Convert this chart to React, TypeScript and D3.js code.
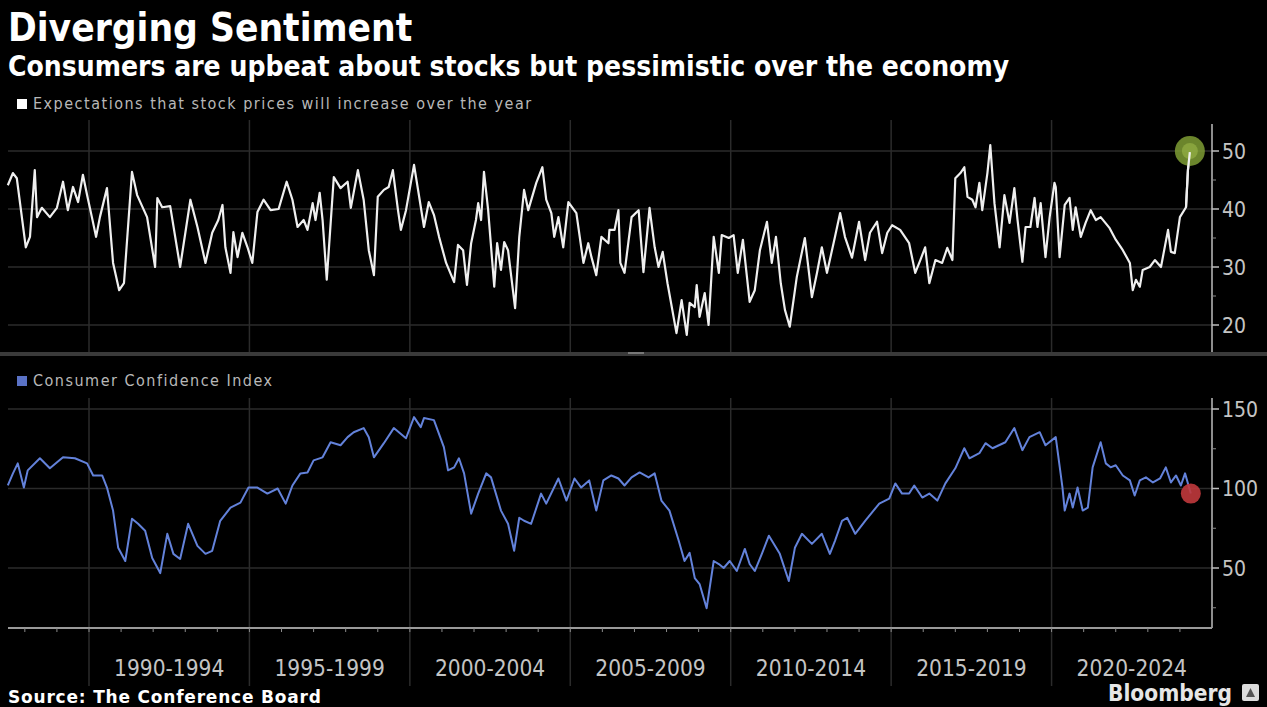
import React from 'react';
import * as d3 from 'd3';

// Expectations that stock prices will increase over the year (%)
const stockDates = [
  1987.47, 1987.63, 1987.75, 1988.03, 1988.16, 1988.31, 1988.38, 1988.53, 1988.78, 1989.0,
  1989.19, 1989.34, 1989.5, 1989.66, 1989.81, 1989.94, 1990.09, 1990.22, 1990.34, 1990.56,
  1990.75, 1990.94, 1991.09, 1991.34, 1991.5, 1991.81, 1992.06, 1992.13, 1992.28, 1992.53,
  1992.84, 1993.16, 1993.38, 1993.63, 1993.84, 1994.03, 1994.16, 1994.25, 1994.41, 1994.5,
  1994.63, 1994.78, 1994.94, 1995.09, 1995.25, 1995.44, 1995.66, 1995.91, 1996.16, 1996.34,
  1996.5, 1996.69, 1996.81, 1996.97, 1997.06, 1997.19, 1997.28, 1997.41, 1997.63, 1997.84,
  1998.06, 1998.16, 1998.38, 1998.56, 1998.72, 1998.88, 1999.0, 1999.19, 1999.34, 1999.47,
  1999.63, 1999.72, 1999.88, 2000.13, 2000.25, 2000.44, 2000.59, 2000.75, 2000.91, 2001.13,
  2001.38, 2001.5, 2001.66, 2001.78, 2001.91, 2002.06, 2002.13, 2002.22, 2002.31, 2002.44,
  2002.63, 2002.72, 2002.84, 2002.94, 2003.06, 2003.28, 2003.41, 2003.56, 2003.69, 2003.94,
  2004.13, 2004.25, 2004.41, 2004.5, 2004.63, 2004.78, 2004.94, 2005.19, 2005.41, 2005.56,
  2005.66, 2005.81, 2005.97, 2006.19, 2006.22, 2006.38, 2006.5, 2006.56, 2006.69, 2006.91,
  2007.13, 2007.28, 2007.47, 2007.63, 2007.75, 2007.88, 2008.03, 2008.31, 2008.47, 2008.63,
  2008.72, 2008.88, 2008.94, 2009.03, 2009.19, 2009.31, 2009.47, 2009.63, 2009.72, 2009.94,
  2010.09, 2010.22, 2010.38, 2010.59, 2010.75, 2010.91, 2011.13, 2011.28, 2011.41, 2011.56,
  2011.69, 2011.84, 2012.06, 2012.31, 2012.53, 2012.69, 2012.84, 2013.0, 2013.25, 2013.41,
  2013.56, 2013.78, 2014.0, 2014.19, 2014.34, 2014.56, 2014.72, 2014.88, 2015.03, 2015.28,
  2015.56, 2015.75, 2015.91, 2016.06, 2016.19, 2016.38, 2016.59, 2016.75, 2016.91, 2017.0,
  2017.16, 2017.28, 2017.38, 2017.53, 2017.63, 2017.75, 2017.84, 2018.0, 2018.09, 2018.22,
  2018.38, 2018.53, 2018.69, 2018.84, 2018.94, 2019.09, 2019.19, 2019.34, 2019.47, 2019.56,
  2019.66, 2019.81, 2019.94, 2020.09, 2020.13, 2020.25, 2020.41, 2020.56, 2020.66, 2020.75,
  2020.91, 2021.06, 2021.22, 2021.38, 2021.53, 2021.81, 2022.0, 2022.22, 2022.44, 2022.53,
  2022.63, 2022.75, 2022.84, 2023.06, 2023.22, 2023.41, 2023.63, 2023.72, 2023.84, 2024.0,
  2024.19, 2024.25, 2024.31,
];
const stockValues = [
  44.1, 46.2, 45.3, 33.4, 35.2, 46.7, 38.6, 40.2, 38.6, 40.2,
  44.7, 39.8, 43.8, 41.2, 45.9, 42.4, 38.6, 35.2, 38.6, 43.6,
  30.7, 26.0, 27.2, 46.4, 42.4, 38.6, 30.0, 41.9, 40.3, 40.5,
  30.0, 41.6, 36.9, 30.7, 35.9, 38.1, 40.7, 33.4, 29.0, 36.0,
  31.7, 35.9, 33.4, 30.7, 39.5, 41.6, 39.8, 40.0, 44.7, 41.6,
  36.9, 38.1, 36.4, 41.0, 38.1, 42.8, 38.1, 27.8, 45.5, 43.6,
  44.7, 40.2, 46.7, 41.6, 32.9, 28.6, 42.1, 43.3, 43.8, 46.7,
  39.8, 36.4, 39.8, 47.6, 43.5, 36.9, 41.2, 39.0, 35.2, 30.7,
  27.4, 33.8, 32.9, 26.9, 34.1, 38.1, 41.0, 38.1, 46.4, 39.8,
  26.6, 34.1, 29.5, 34.3, 32.9, 22.9, 35.2, 43.3, 39.8, 44.5,
  47.2, 41.6, 39.3, 35.2, 38.6, 33.4, 41.2, 39.3, 30.7, 34.1,
  31.7, 28.6, 35.2, 34.1, 36.4, 36.4, 39.8, 30.7, 29.0, 38.6,
  39.8, 29.1, 40.2, 33.4, 30.0, 32.6, 27.2, 18.6, 24.3, 18.3,
  23.8, 23.1, 26.9, 21.4, 25.5, 20.0, 35.2, 29.0, 35.5, 35.0,
  35.5, 29.0, 34.7, 24.0, 26.0, 32.9, 37.8, 30.7, 35.2, 27.2,
  22.6, 19.7, 28.3, 35.0, 24.8, 29.0, 33.4, 29.0, 35.2, 39.3,
  35.2, 31.6, 37.8, 31.2, 35.9, 37.8, 32.4, 35.9, 37.2, 36.4,
  34.1, 29.0, 31.2, 33.4, 27.2, 31.2, 30.7, 33.3, 31.2, 45.3,
  46.2, 47.2, 42.1, 41.6, 40.3, 44.5, 39.8, 46.2, 51.0, 41.0,
  33.4, 42.4, 37.6, 43.6, 38.1, 30.9, 36.9, 36.9, 41.9, 36.9,
  41.0, 31.7, 38.6, 44.5, 43.8, 31.7, 40.7, 41.9, 36.4, 40.3,
  35.2, 37.6, 39.8, 38.1, 38.6, 36.7, 34.7, 32.9, 30.7, 26.0,
  27.8, 26.6, 29.5, 30.0, 31.2, 30.0, 36.4, 32.6, 32.4, 38.6,
  40.3, 46.7, 49.8,
];

// Consumer Confidence Index
const cciDates = [
  1987.47, 1987.63, 1987.78, 1987.97, 1988.09, 1988.47, 1988.78, 1989.19, 1989.56, 1989.94,
  1990.13, 1990.41, 1990.56, 1990.75, 1990.91, 1991.13, 1991.34, 1991.53, 1991.75, 1991.97,
  1992.22, 1992.44, 1992.63, 1992.84, 1993.09, 1993.38, 1993.63, 1993.84, 1994.09, 1994.41,
  1994.72, 1994.97, 1995.25, 1995.56, 1995.88, 1996.13, 1996.34, 1996.59, 1996.81, 1997.0,
  1997.28, 1997.53, 1997.84, 1998.06, 1998.25, 1998.56, 1998.72, 1998.88, 1999.19, 1999.5,
  1999.88, 2000.13, 2000.34, 2000.44, 2000.75, 2001.06, 2001.19, 2001.38, 2001.53, 2001.69,
  2001.91, 2002.13, 2002.38, 2002.53, 2002.84, 2003.06, 2003.25, 2003.41, 2003.56, 2003.78,
  2004.09, 2004.25, 2004.63, 2004.88, 2005.13, 2005.34, 2005.59, 2005.81, 2006.03, 2006.28,
  2006.5, 2006.69, 2006.91, 2007.16, 2007.44, 2007.63, 2007.84, 2008.09, 2008.38, 2008.56,
  2008.72, 2008.88, 2009.03, 2009.25, 2009.47, 2009.63, 2009.78, 2009.97, 2010.19, 2010.44,
  2010.59, 2010.75, 2010.97, 2011.19, 2011.53, 2011.81, 2012.0, 2012.22, 2012.53, 2012.84,
  2013.09, 2013.25, 2013.47, 2013.63, 2013.88, 2014.19, 2014.63, 2014.94, 2015.13, 2015.34,
  2015.56, 2015.72, 2015.97, 2016.19, 2016.44, 2016.69, 2017.0, 2017.28, 2017.44, 2017.75,
  2017.94, 2018.16, 2018.56, 2018.84, 2019.09, 2019.31, 2019.63, 2019.81, 2020.13, 2020.34,
  2020.41, 2020.56, 2020.66, 2020.81, 2020.97, 2021.13, 2021.28, 2021.53, 2021.69, 2021.84,
  2022.0, 2022.22, 2022.44, 2022.59, 2022.75, 2022.94, 2023.16, 2023.38, 2023.56, 2023.72,
  2023.88, 2024.03, 2024.16, 2024.34,
];
const cciValues = [
  101.9, 109.5, 115.8, 100.6, 111.4, 119.0, 112.7, 119.6, 119.0, 115.8,
  108.2, 108.2, 100.6, 86.1, 62.7, 54.4, 81.0, 77.8, 73.4, 56.3,
  46.8, 71.5, 58.9, 55.7, 77.8, 63.9, 58.9, 60.8, 79.7, 88.0,
  91.1, 100.6, 100.6, 96.8, 100.0, 90.5, 101.9, 109.5, 110.1, 117.7,
  119.6, 129.1, 127.2, 132.3, 135.4, 138.0, 132.3, 119.6, 128.5, 138.0,
  131.6, 144.9, 138.6, 144.3, 143.0, 126.0, 111.4, 113.3, 119.0, 109.5,
  84.2, 96.8, 109.5, 107.0, 86.1, 77.8, 60.8, 81.6, 79.7, 77.8,
  96.8, 90.5, 106.3, 92.4, 106.3, 100.6, 105.1, 86.1, 105.1, 108.2,
  106.3, 101.9, 107.0, 110.1, 107.0, 109.5, 92.4, 86.1, 67.1, 54.4,
  59.5, 43.7, 39.9, 24.7, 54.4, 52.5, 50.0, 54.4, 48.1, 62.0,
  52.5, 48.1, 58.9, 70.3, 58.9, 41.8, 62.7, 71.5, 65.2, 71.5,
  58.9, 67.1, 79.7, 81.6, 71.5, 79.7, 90.5, 93.7, 103.2, 96.8,
  96.8, 101.9, 94.3, 96.8, 92.4, 103.2, 112.7, 125.3, 119.0, 122.2,
  128.5, 125.3, 129.1, 138.0, 124.1, 132.3, 135.4, 127.2, 132.3, 100.6,
  86.1, 96.8, 88.0, 100.6, 86.1, 88.0, 113.3, 129.1, 115.8, 113.3,
  114.6, 108.2, 105.1, 95.6, 105.1, 107.0, 103.8, 106.3, 113.3, 103.8,
  108.2, 101.9, 109.5, 96.8,
];

const periodStarts = [1990, 1995, 2000, 2005, 2010, 2015, 2020];
const periodLabels = ['1990-1994', '1995-1999', '2000-2004', '2005-2009', '2010-2014', '2015-2019', '2020-2024'];
const stockTicks = [20, 30, 40, 50];
const stockMinorTicks = [25, 35, 45];
const cciTicks = [50, 100, 150];
const cciMinorTicks = [25, 75, 125];

const W = 1267;
const H = 707;
const COND = "'DejaVu Sans Condensed', 'DejaVu Sans', sans-serif";
const WIDE = "'DejaVu Sans', sans-serif";

export default function App() {
  const x = d3.scaleLinear().domain([1990, 2025]).range([89, 1212]);
  const yTop = d3.scaleLinear().domain([20, 50]).range([325, 151]);
  const yBot = d3.scaleLinear().domain([50, 150]).range([568, 409]);

  const plotLeft = 8;
  const plotRight = x(2025);
  const topY0 = 124, topY1 = 353;
  const botY0 = 398, axisY = 628;

  const topLine = d3
    .line<number>()
    .x((_, i) => x(stockDates[i]))
    .y((d) => yTop(d))(stockValues) as string;
  const botLine = d3
    .line<number>()
    .x((_, i) => x(cciDates[i]))
    .y((d) => yBot(d))(cciValues) as string;

  const years = d3.range(1988, 2025);
  const gridColor = '#2b2b2b';
  const tickText = '#c4c4c4';

  const lastS = stockValues.length - 1;
  const lastC = cciValues.length - 1;

  return (
    <svg
      width={W}
      height={H}
      viewBox={`0 0 ${W} ${H}`}
      style={{ position: 'absolute', left: 0, top: 0, background: '#000' }}
    >
      <rect x={0} y={0} width={W} height={H} fill="#000" />

      {/* Titles */}
      <text x={8} y={41} fill="#fff" fontFamily={COND} fontWeight="bold" fontSize={38.5}>
        Diverging Sentiment
      </text>
      <text x={8} y={76} fill="#fff" fontFamily={COND} fontWeight="bold" fontSize={28}>
        Consumers are upbeat about stocks but pessimistic over the economy
      </text>

      {/* Legend 1 */}
      <rect x={17} y={99} width={10} height={10} fill="#fff" />
      <text x={33} y={109} fill="#b8b8b8" fontFamily={COND} fontSize={16} letterSpacing={1.5}>
        Expectations that stock prices will increase over the year
      </text>

      {/* Top panel grid */}
      {stockTicks.map((t) => (
        <line key={'hg' + t} x1={plotLeft} x2={plotRight} y1={yTop(t)} y2={yTop(t)} stroke={gridColor} strokeWidth={1.5} />
      ))}
      {periodStarts.map((p) => (
        <line key={'vgt' + p} x1={x(p)} x2={x(p)} y1={topY0 - 4} y2={topY1} stroke={gridColor} strokeWidth={1.5} />
      ))}

      {/* Top axis */}
      <line x1={plotRight} x2={plotRight} y1={topY0} y2={topY1} stroke="#bdbdbd" strokeWidth={1.5} />
      {stockTicks.map((t) => (
        <g key={'st' + t}>
          <line x1={plotRight} x2={plotRight + 7} y1={yTop(t)} y2={yTop(t)} stroke="#bdbdbd" strokeWidth={1.5} />
          <text x={plotRight + 10} y={yTop(t)} dy="0.36em" fill={tickText} fontFamily={COND} fontSize={21}>
            {t}
          </text>
        </g>
      ))}
      {stockMinorTicks.map((t) => (
        <line key={'sm' + t} x1={plotRight} x2={plotRight + 4} y1={yTop(t)} y2={yTop(t)} stroke="#8a8a8a" strokeWidth={1} />
      ))}

      {/* Top line */}
      <path d={topLine} fill="none" stroke="#efefef" strokeWidth={2.2} strokeLinejoin="round" />
      <circle cx={x(stockDates[lastS])} cy={yTop(50)} r={15} fill="#7e9c34" opacity={0.85} />
      <circle cx={x(stockDates[lastS])} cy={yTop(50)} r={8} fill="#9bb84a" opacity={0.6} />
      <path
        d={d3.line<number>().x((_, i) => x(stockDates[lastS - 2 + i])).y((d) => yTop(d))(stockValues.slice(lastS - 2)) as string}
        fill="none"
        stroke="#efefef"
        strokeWidth={2.2}
      />

      {/* Divider */}
      <rect x={0} y={352} width={W} height={4} fill="#3a3a3a" />
      <rect x={628} y={352} width={16} height={2} fill="#777" />

      {/* Legend 2 */}
      <rect x={17} y={376} width={10} height={10} fill="#5a72c6" />
      <text x={33} y={386} fill="#b8b8b8" fontFamily={COND} fontSize={16} letterSpacing={1.5}>
        Consumer Confidence Index
      </text>

      {/* Bottom panel grid */}
      {cciTicks.map((t) => (
        <line key={'hgb' + t} x1={plotLeft} x2={plotRight} y1={yBot(t)} y2={yBot(t)} stroke={gridColor} strokeWidth={1.5} />
      ))}
      {periodStarts.map((p) => (
        <line key={'vgb' + p} x1={x(p)} x2={x(p)} y1={botY0} y2={686} stroke={gridColor} strokeWidth={1.5} />
      ))}

      {/* Bottom right axis */}
      <line x1={plotRight} x2={plotRight} y1={botY0} y2={axisY} stroke="#bdbdbd" strokeWidth={1.5} />
      {cciTicks.map((t) => (
        <g key={'ct' + t}>
          <line x1={plotRight} x2={plotRight + 7} y1={yBot(t)} y2={yBot(t)} stroke="#bdbdbd" strokeWidth={1.5} />
          <text x={plotRight + 10} y={yBot(t)} dy="0.36em" fill={tickText} fontFamily={COND} fontSize={21}>
            {t}
          </text>
        </g>
      ))}
      {cciMinorTicks.map((t) => (
        <line key={'cm' + t} x1={plotRight} x2={plotRight + 4} y1={yBot(t)} y2={yBot(t)} stroke="#8a8a8a" strokeWidth={1} />
      ))}

      {/* Bottom line */}
      <path d={botLine} fill="none" stroke="#6382da" strokeWidth={2} strokeLinejoin="round" />
      <circle cx={x(cciDates[lastC])} cy={yBot(cciValues[lastC])} r={10} fill="#c0383c" opacity={0.9} />

      {/* X axis */}
      <line x1={plotLeft} x2={plotRight} y1={axisY} y2={axisY} stroke="#9a9a9a" strokeWidth={2} />
      {years.map((yr) => (
        <line key={'yt' + yr} x1={x(yr)} x2={x(yr)} y1={axisY} y2={axisY + 4} stroke="#8a8a8a" strokeWidth={1} />
      ))}
      {periodStarts.map((p, i) => (
        <text
          key={'pl' + p}
          x={(x(p) + x(p + 5)) / 2}
          y={676}
          textAnchor="middle"
          fill={tickText}
          fontFamily={COND}
          fontSize={22.5}
        >
          {periodLabels[i]}
        </text>
      ))}

      {/* Footer */}
      <text x={8} y={703} fill="#fff" fontFamily={WIDE} fontWeight="bold" fontSize={17} letterSpacing={0.8}>
        Source: The Conference Board
      </text>
      <text x={1232} y={701} textAnchor="end" fill="#e6e6e6" fontFamily={COND} fontWeight="bold" fontSize={22.5}>
        Bloomberg
      </text>
      <rect x={1242} y={684} width={17} height={17} rx={2} fill="#dcdcdc" />
      <path d="M1246 697 L1250.5 688 L1255 697 Z" fill="#555" />
    </svg>
  );
}
